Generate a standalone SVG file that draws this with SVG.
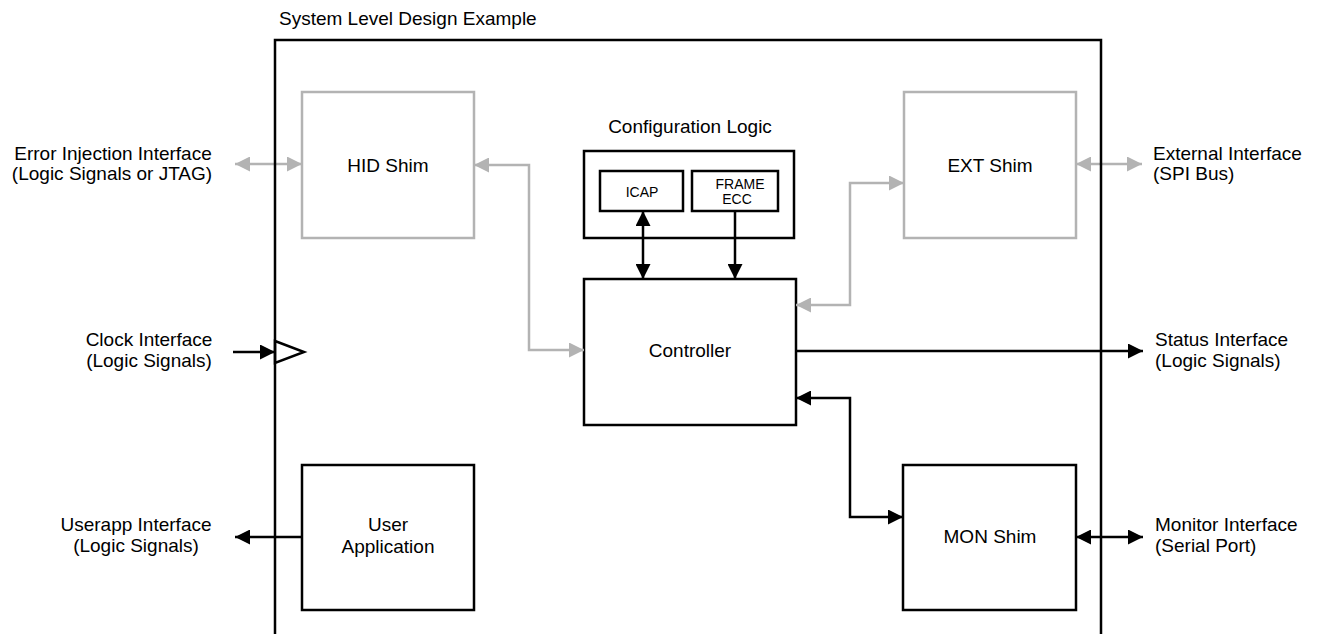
<svg xmlns="http://www.w3.org/2000/svg" width="1317" height="634" viewBox="0 0 1317 634">
<style>
text{font-family:"Liberation Sans",Arial,sans-serif;font-size:19px;fill:#000}
.c{text-anchor:middle}
.s{font-size:14px}
.box{fill:#fff;stroke:#000;stroke-width:2.5}
.gbox{fill:#fff;stroke:#b3b3b3;stroke-width:2.5}
.k{fill:none;stroke:#000;stroke-width:2.5}
.g{fill:none;stroke:#b3b3b3;stroke-width:2.5}
.ka{marker-end:url(#ak)}
.kb{marker-start:url(#ak);marker-end:url(#ak)}
.ga{marker-end:url(#ag)}
.gb{marker-start:url(#ag);marker-end:url(#ag)}
</style>
<defs>
<marker id="ak" markerUnits="userSpaceOnUse" markerWidth="15" markerHeight="15" viewBox="0 0 15 15" refX="15" refY="7.5" orient="auto-start-reverse"><path d="M0,0 L15,7.5 L0,15 z" fill="#000"/></marker>
<marker id="ag" markerUnits="userSpaceOnUse" markerWidth="15" markerHeight="15" viewBox="0 0 15 15" refX="15" refY="7.5" orient="auto-start-reverse"><path d="M0,0 L15,7.5 L0,15 z" fill="#b3b3b3"/></marker>
</defs>
<rect width="1317" height="634" fill="#fff"/>
<g id="hid">
<rect class="gbox" x="302" y="92" width="172" height="146"/>
<text class="c" x="388" y="172">HID Shim</text>
</g>
<g id="ext">
<rect class="gbox" x="904" y="92" width="172" height="146"/>
<text class="c" x="990" y="172">EXT Shim</text>
</g>
<g id="config">
<text class="c" x="690" y="133">Configuration Logic</text>
<rect class="box" x="584" y="151" width="210" height="87"/>
</g>
<g id="icap">
<rect class="box" x="600" y="171" width="83" height="40"/>
<text class="c s" x="642" y="197">ICAP</text>
</g>
<g id="frameecc">
<rect class="box" x="692" y="171" width="86" height="40"/>
<text class="c s" x="740" y="189">FRAME</text>
<text class="c s" x="737" y="204">ECC</text>
</g>
<g id="controller">
<rect class="box" x="584" y="279" width="212" height="146"/>
<text class="c" x="690" y="357">Controller</text>
</g>
<g id="userapp">
<rect class="box" x="302" y="465" width="172" height="145"/>
<text class="c" x="388" y="531">User</text>
<text class="c" x="388" y="553">Application</text>
</g>
<g id="mon">
<rect class="box" x="903" y="465" width="173" height="145"/>
<text class="c" x="990" y="543">MON Shim</text>
</g>
<g id="connectors">
<path class="g gb" d="M235,164 H302"/>
<path class="g gb" d="M474,165 H529 V350 H584"/>
<path class="g gb" d="M796,305 H850 V183 H904"/>
<path class="g gb" d="M1076,164 H1142"/>
<path class="k kb" d="M643,211 V279"/>
<path class="k ka" d="M735,211 V279"/>
<path class="k ka" d="M796,351 H1143"/>
<path class="k kb" d="M796,398 H850 V517 H903"/>
<path class="k kb" d="M1076,537 H1143"/>
<path class="k ka" d="M302,537 H235"/>
<path class="k ka" d="M233,352 H275"/>
<polygon class="k" points="275,341 304,352 275,363"/>
</g>
<g id="system">
<path class="k" d="M275,640 V40 H1101 V640"/>
<text x="279" y="25">System Level Design Example</text>
</g>
<g id="labels">
<text class="c" x="113" y="160">Error Injection Interface</text>
<text class="c" x="112" y="180">(Logic Signals or JTAG)</text>
<text class="c" x="149" y="346">Clock Interface</text>
<text class="c" x="149" y="367">(Logic Signals)</text>
<text class="c" x="136" y="531">Userapp Interface</text>
<text class="c" x="136" y="552">(Logic Signals)</text>
<text x="1153" y="160">External Interface</text>
<text x="1153" y="180">(SPI Bus)</text>
<text x="1155" y="346">Status Interface</text>
<text x="1155" y="367">(Logic Signals)</text>
<text x="1155" y="531">Monitor Interface</text>
<text x="1155" y="552">(Serial Port)</text>
</g>
</svg>
